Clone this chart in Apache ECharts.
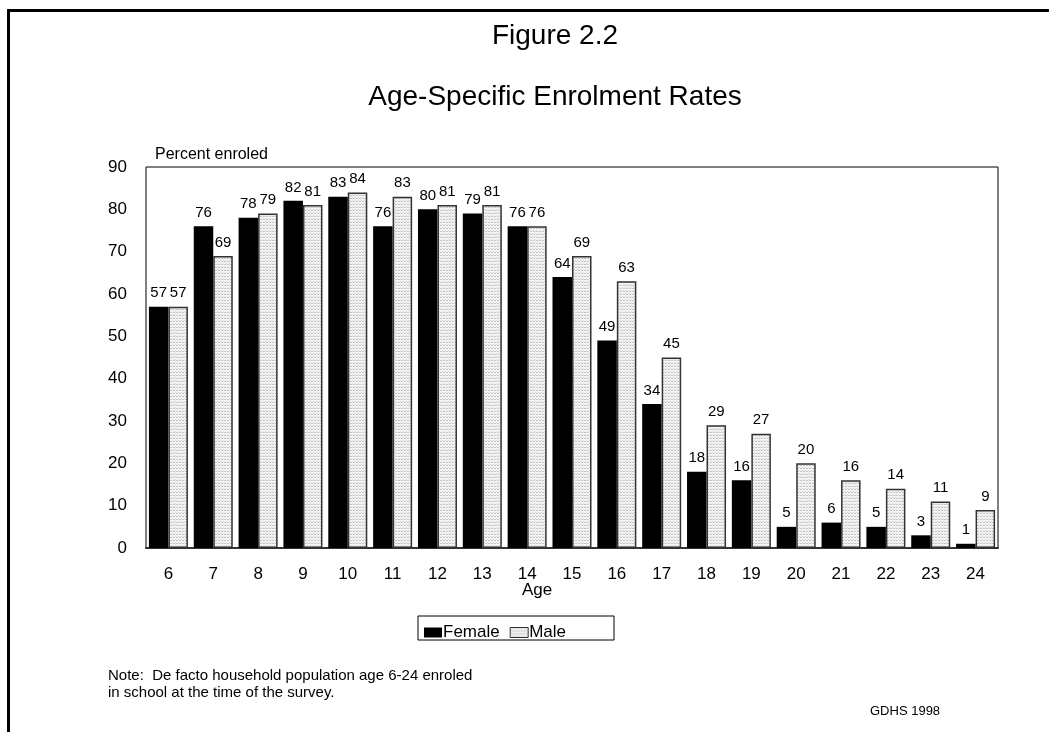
<!DOCTYPE html>
<html>
<head>
<meta charset="utf-8">
<script src="https://cdn.jsdelivr.net/npm/echarts@6/dist/echarts.min.js"></script>
<style>
html,body{margin:0;padding:0;background:#fff;}
#chart{width:1049px;height:732px;}
</style>
</head>
<body>
<div id="chart"></div>
<script>
const ages = ['6','7','8','9','10','11','12','13','14','15','16','17','18','19','20','21','22','23','24'];
const female = [57,76,78,82,83,76,80,79,76,64,49,34,18,16,5,6,5,3,1];
const male = [57,69,79,81,84,83,81,81,76,69,63,45,29,27,20,16,14,11,9];
const yTicks = [0,10,20,30,40,50,60,70,80,90];

function makePattern(){
  const c = document.createElement('canvas');
  c.width = 3; c.height = 3;
  const ctx = c.getContext('2d');
  ctx.fillStyle = '#f4f4f4';
  ctx.fillRect(0,0,3,3);
  ctx.fillStyle = '#c4c4c4';
  ctx.fillRect(0,0,1,1);
  ctx.fillRect(2,0,1,1);
  ctx.fillStyle = '#d8d8d8';
  ctx.fillRect(1,2,1,1);
  return c;
}
const pat = {image: makePattern(), repeat: 'repeat'};
const FONT = 'Liberation Sans, Arial, sans-serif';

const chart = echarts.init(document.getElementById('chart'), null, {renderer:'canvas'});
const option = {
  animation: false,
  backgroundColor: '#fff',
  textStyle: {fontFamily: FONT, color: '#000'},
  grid: {left: 146, right: 51, top: 167, bottom: 184, show: true, borderColor: '#000', borderWidth: 1},
  xAxis: {
    type: 'category', data: ages,
    axisLine: {show: true, lineStyle: {color: '#333', width: 2}},
    axisTick: {show: false},
    axisLabel: {fontSize: 17, color: '#000', margin: 18, fontFamily: FONT}
  },
  yAxis: {
    type: 'value', min: yTicks[0], max: yTicks[yTicks.length-1], interval: 10,
    axisLine: {show: false}, axisTick: {show: false}, splitLine: {show: false},
    axisLabel: {fontSize: 17, color: '#000', margin: 19, fontFamily: FONT}
  },
  legend: {
    left: 419, top: 619, itemWidth: 18, itemHeight: 10, itemGap: 10,
    textStyle: {fontSize: 17, color: '#000', fontFamily: FONT, padding: [0,0,0,-4]},
    data: [
      {name: 'Female', icon: 'rect', itemStyle: {color: '#000', borderWidth: 0}},
      {name: 'Male', icon: 'rect', itemStyle: {color: pat, borderColor: '#333', borderWidth: 1}}
    ]
  },
  series: [
    {
      name: 'Female', type: 'bar', data: female, barGap: '0%', barCategoryGap: '13%',
      itemStyle: {color: '#000'},
      label: {show: true, position: 'top', fontSize: 15, color: '#000', distance: 6, fontFamily: FONT}
    },
    {
      name: 'Male', type: 'bar', data: male,
      itemStyle: {color: pat, borderColor: '#333', borderWidth: 1.5},
      label: {show: true, position: 'top', fontSize: 15, color: '#000', distance: 6, fontFamily: FONT}
    }
  ],
  graphic: [
    {type: 'rect', shape: {x: 7, y: 9, width: 1042, height: 3}, style: {fill: '#000'}},
    {type: 'rect', shape: {x: 7, y: 9, width: 3, height: 723}, style: {fill: '#000'}},
    {type: 'text', x: 555, y: 36, style: {text: 'Figure 2.2', font: '28px ' + FONT, fill: '#000', textAlign: 'center', textVerticalAlign: 'middle'}},
    {type: 'text', x: 555, y: 97, style: {text: 'Age-Specific Enrolment Rates', font: '28px ' + FONT, fill: '#000', textAlign: 'center', textVerticalAlign: 'middle'}},
    {type: 'text', x: 155, y: 155, style: {text: 'Percent enroled', font: '16px ' + FONT, fill: '#000', textVerticalAlign: 'middle'}},
    {type: 'text', x: 537, y: 590, style: {text: 'Age', font: '17px ' + FONT, fill: '#000', textAlign: 'center', textVerticalAlign: 'middle'}},
    {type: 'rect', shape: {x: 418, y: 616, width: 196, height: 24}, style: {fill: 'none', stroke: '#000', lineWidth: 1}},
    {type: 'text', x: 108, y: 676, style: {text: 'Note:  De facto household population age 6-24 enroled', font: '15px ' + FONT, fill: '#000', textVerticalAlign: 'middle'}},
    {type: 'text', x: 108, y: 693, style: {text: 'in school at the time of the survey.', font: '15px ' + FONT, fill: '#000', textVerticalAlign: 'middle'}},
    {type: 'text', x: 870, y: 711, style: {text: 'GDHS 1998', font: '13px ' + FONT, fill: '#000', textVerticalAlign: 'middle'}}
  ]
};
chart.setOption(option);
</script>
</body>
</html>
